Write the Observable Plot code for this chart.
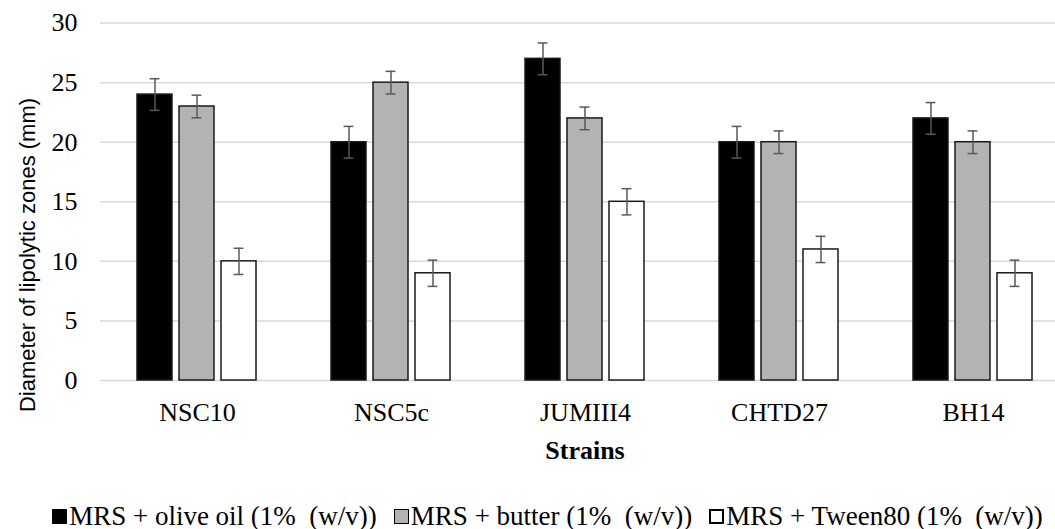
<!DOCTYPE html>
<html>
<head>
<meta charset="utf-8">
<script src="https://cdn.jsdelivr.net/npm/d3@7"></script>
<script src="https://cdn.jsdelivr.net/npm/@observablehq/plot@0.6"></script>
<style>
  html, body { margin: 0; padding: 0; background: #fff; overflow: hidden; }
  #chart { width: 1055px; }
  #legend { display: flex; justify-content: center; gap: 17px; font-family: "Liberation Serif", serif; font-size: 27px; white-space: pre; color: #000; height: 59px; box-sizing: border-box; padding-top: 33px; padding-left: 40px; line-height: 27px; }
  .item { display: flex; align-items: center; }
  .sw { width: 13px; height: 13px; margin-right: 2px; border: 1px solid #000; }
</style>
</head>
<body>
<div id="chart"></div>
<div id="legend"></div>
<script>
const strains = ["NSC10", "NSC5c", "JUMIII4", "CHTD27", "BH14"];
const media = ["MRS + olive oil (1%  (w/v))", "MRS + butter (1%  (w/v))", "MRS + Tween80 (1%  (w/v))"];
const oliveOil = [24, 20, 27, 20, 22];
const butter = [23, 25, 22, 20, 20];
const tween80 = [10, 9, 15, 11, 9];
const errOliveOil = [1.33, 1.33, 1.33, 1.33, 1.33];
const errButter = [0.95, 0.95, 0.95, 0.95, 0.95];
const errTween80 = [1.1, 1.1, 1.1, 1.1, 1.1];
const yTicks = [0, 5, 10, 15, 20, 25, 30];
const colors = ["#000000", "#b3b3b3", "#ffffff"];

const seriesVals = [oliveOil, butter, tween80];
const seriesErr = [errOliveOil, errButter, errTween80];
const rows = [];
strains.forEach((s, i) => media.forEach((m, j) => rows.push({strain: s, medium: m, value: seriesVals[j][i], err: seriesErr[j][i]})));

const chart = Plot.plot({
  width: 1055,
  height: 470,
  marginLeft: 99,
  marginRight: -16,
  marginTop: 22.6,
  marginBottom: 90,
  style: {fontFamily: "Liberation Serif", background: "white", color: "#000"},
  fx: {domain: strains, padding: 0},
  x: {domain: media, paddingInner: 0.163, paddingOuter: 0.84, axis: null},
  y: {domain: [0, 30], axis: null},
  color: {domain: media, range: colors},
  marks: [
    Plot.ruleY(yTicks, {stroke: "#d9d9d9", strokeWidth: 1.5}),
    Plot.barY(rows, {fx: "strain", x: "medium", y: "value", fill: "medium", stroke: "#1a1a1a", strokeWidth: 1.5}),
    Plot.ruleX(rows, {fx: "strain", x: "medium", y1: d => d.value - d.err, y2: d => d.value + d.err, stroke: "#595959", strokeWidth: 1.5}),
    Plot.tickY(rows, {fx: "strain", x: "medium", y: d => d.value + d.err, stroke: "#595959", strokeWidth: 1.5, insetLeft: 12.6, insetRight: 12.6}),
    Plot.tickY(rows, {fx: "strain", x: "medium", y: d => d.value - d.err, stroke: "#595959", strokeWidth: 1.5, insetLeft: 12.6, insetRight: 12.6}),
    Plot.axisY({ticks: yTicks, tickSize: 0, tickPadding: 23, fontSize: 26, label: null, fill: "#000"}),
    Plot.axisFx({anchor: "bottom", tickSize: 0, tickPadding: 22, fontSize: 26, label: null, fill: "#000"})
  ]
});
document.getElementById("chart").appendChild(chart);

const svg = d3.select(chart);
svg.append("text")
  .attr("transform", "translate(35,255) rotate(-90)")
  .attr("text-anchor", "middle")
  .attr("font-family", "Liberation Sans, Arial, sans-serif")
  .attr("font-size", 22)
  .attr("fill", "#000")
  .text("Diameter of lipolytic zones (mm)");
svg.append("text")
  .attr("x", 585).attr("y", 459)
  .attr("text-anchor", "middle")
  .attr("font-family", "Liberation Serif, serif")
  .attr("font-weight", "bold")
  .attr("font-size", 26)
  .attr("fill", "#000")
  .text("Strains");

const legend = d3.select("#legend");
media.forEach((m, j) => {
  const it = legend.append("div").attr("class", "item");
  it.append("div").attr("class", "sw").style("background", colors[j]).style("border-width", j === 2 ? "2px" : "1px").style("width", j === 2 ? "11px" : "13px").style("height", j === 2 ? "11px" : "13px");
  it.append("span").text(m);
});
</script>
</body>
</html>
